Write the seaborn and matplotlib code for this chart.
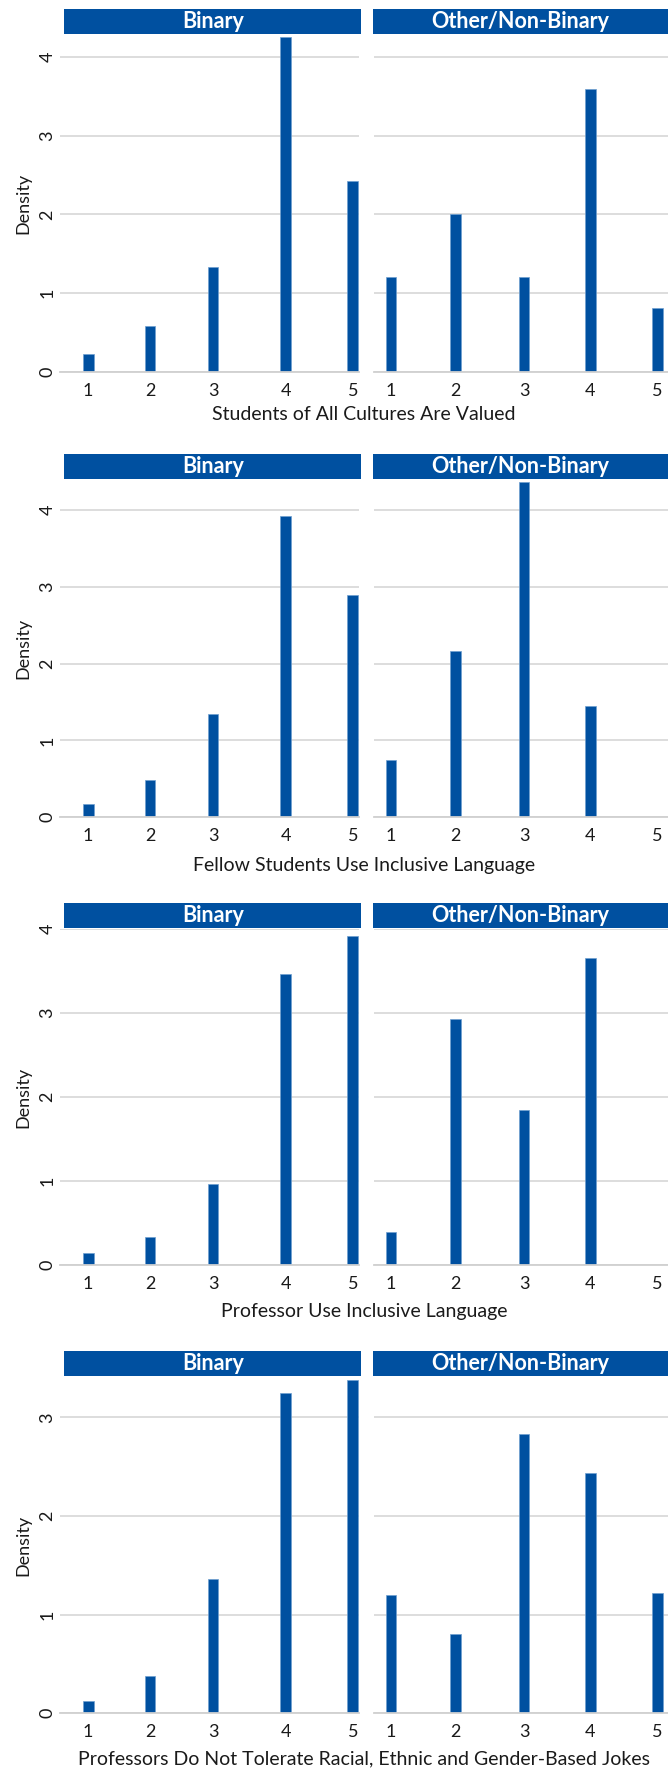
import numpy as np
import pandas as pd
import matplotlib
matplotlib.use('Agg')
import matplotlib.pyplot as plt
import seaborn as sns
from matplotlib.patches import Rectangle

# ---------------------------------------------------------------------------
# Data (density of each response)
# ---------------------------------------------------------------------------
tick_labels = ['1', '2', '3', '4', '5']
pos_binary = [1, 1.934, 2.887, 3.983, 5]      # bar positions, Binary panel
pos_other = [1, 1.97, 2.997, 3.995, 5]        # bar positions, Other panel
groups = ['Binary', 'Other/Non-Binary']

questions = [
    'Students of All Cultures Are Valued',
    'Fellow Students Use Inclusive Language',
    'Professor Use Inclusive Language',
    'Professors Do Not Tolerate Racial, Ethnic and Gender-Based Jokes',
]

binary_cultures = [0.225, 0.578, 1.33, 4.25, 2.42]
other_cultures = [1.21, 2.0, 1.21, 3.59, 0.81]

binary_fellow = [0.177, 0.48, 1.35, 3.92, 2.89]
other_fellow = [0.746, 2.17, 4.36, 1.45, 0.0]

binary_prof = [0.147, 0.33, 0.963, 3.47, 3.92]
other_prof = [0.39, 2.925, 1.847, 3.65, 0.0]

binary_jokes = [0.128, 0.375, 1.366, 3.25, 3.375]
other_jokes = [1.204, 0.805, 2.834, 2.435, 1.217]

binary_vals = [binary_cultures, binary_fellow, binary_prof, binary_jokes]
other_vals = [other_cultures, other_fellow, other_prof, other_jokes]

# ---------------------------------------------------------------------------
# Style
# ---------------------------------------------------------------------------
sns.set_style('white')
plt.rcParams['font.family'] = ['Lato', 'DejaVu Sans']

BLUE = '#0050A0'
GRID = '#dadada'
TEXT = '#1a1a1a'
W, H = 668, 1773

# layout in pixels (top / bottom of each row's plot area, strips, x labels)
ax_top = [35, 480, 929, 1377]
ax_bot = [371.7, 817.3, 1265, 1713.3]
strip_top = [9, 454, 903, 1351]
strip_bot = [34, 479, 928, 1376]
xlab_y = [415, 865, 1312, 1759]
ymax = [4.28, 4.39, 4.0, 3.41]
yticks_max = [4, 4, 4, 3]

left_x = (59.6, 359)
right_x = (374, 668)
xlims = [(0.568, 5.094), (0.745, 5.16)]
strip_x = [(64.4, 361), (373, 668)]
bar_w = 0.162

fig = plt.figure(figsize=(W / 100, H / 100), dpi=100)


def px_box(x0, x1, top, bot):
    return [x0 / W, 1 - bot / H, (x1 - x0) / W, (bot - top) / H]


for r in range(4):
    for c, (xr, pos, vals) in enumerate([(left_x, pos_binary, binary_vals[r]),
                                          (right_x, pos_other, other_vals[r])]):
        ax = fig.add_axes(px_box(xr[0], xr[1], ax_top[r], ax_bot[r]))
        df = pd.DataFrame({'x': pos, 'density': vals})
        df = df[df['density'] > 0]
        width = bar_w / np.diff(np.sort(df['x'].values)).min()
        sns.barplot(data=df, x='x', y='density', native_scale=True,
                    color=BLUE, saturation=1, width=width, errorbar=None,
                    edgecolor='#6f9fd0', linewidth=0.5, ax=ax)

        ax.set_xlim(*xlims[c])
        ax.set_ylim(0, ymax[r])
        ax.set_xticks(pos)
        ax.set_xticklabels(tick_labels, fontsize=13, color=TEXT)
        ax.set_yticks(range(yticks_max[r] + 1))
        ax.grid(axis='y', color=GRID, linewidth=1.3)
        ax.grid(axis='x', visible=False)
        ax.set_axisbelow(True)
        for s in ['top', 'right', 'left']:
            ax.spines[s].set_visible(False)
        ax.spines['bottom'].set_color('#d0d0d0')
        ax.spines['bottom'].set_linewidth(1.3)
        ax.tick_params(axis='x', length=5, width=1, color='#c8c8c8', pad=3)
        ax.tick_params(axis='y', length=0, pad=3)
        ax.set_xlabel('')
        ax.set_ylabel('')
        if c == 0:
            ax.set_yticklabels([str(t) for t in range(yticks_max[r] + 1)],
                               rotation=90, fontsize=13, color=TEXT, va='center')
        else:
            ax.set_yticklabels([])

        # blue strip with group name
        sx0, sx1 = strip_x[c]
        fig.patches.append(Rectangle((sx0 / W, 1 - strip_bot[r] / H),
                                     (sx1 - sx0) / W,
                                     (strip_bot[r] - strip_top[r]) / H,
                                     transform=fig.transFigure,
                                     facecolor=BLUE, edgecolor='none'))
        fig.text((sx0 + sx1) / 2 / W, 1 - (strip_top[r] + strip_bot[r]) / 2 / H,
                 groups[c], color='white', fontsize=15.5, fontweight='bold',
                 ha='center', va='center')

    # y-axis title and shared x-axis title
    fig.text(23 / W, 1 - (ax_top[r] + ax_bot[r]) / 2 / H, 'Density',
             rotation=90, fontsize=13, color=TEXT, ha='center', va='center')
    fig.text((left_x[0] + right_x[1]) / 2 / W, 1 - xlab_y[r] / H, questions[r],
             fontsize=14, color=TEXT, ha='center', va='center')

fig.savefig('out.png', dpi=100)
